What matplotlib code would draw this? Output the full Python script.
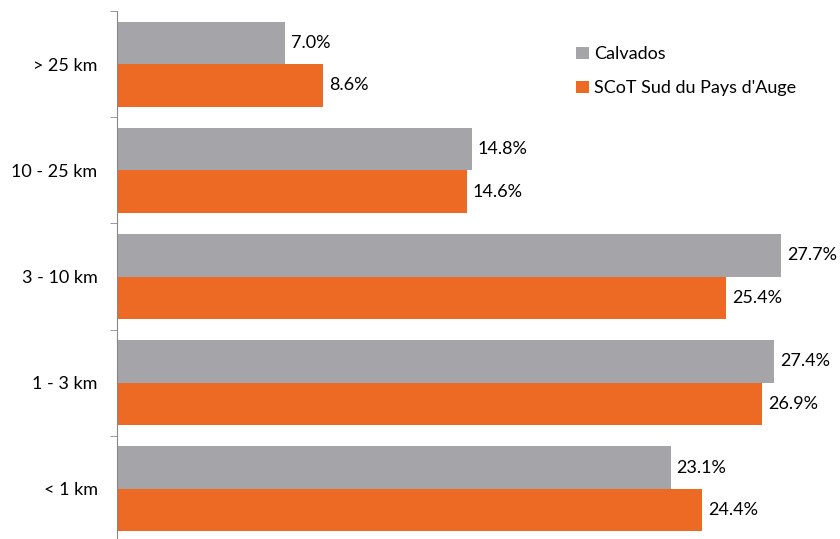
import numpy as np
import matplotlib.pyplot as plt

categories = ['> 25 km', '10 - 25 km', '3 - 10 km', '1 - 3 km', '< 1 km']
calvados = [7.0, 14.8, 27.7, 27.4, 23.1]
scot = [8.6, 14.6, 25.4, 26.9, 24.4]

gray = '#A5A5A9'
orange = '#EC6A23'

plt.rcParams['font.family'] = ['Lato', 'DejaVu Sans']

fig = plt.figure(figsize=(8.4, 5.39), dpi=100)
ax = fig.add_axes([117 / 840, -3 / 539, 1 - 117 / 840, 531 / 539])

y = np.arange(len(categories))
h = 0.4
b1 = ax.barh(y - h / 2, calvados, height=h, color=gray, label='Calvados')
b2 = ax.barh(y + h / 2, scot, height=h, color=orange, label="SCoT Sud du Pays d'Auge")

for bars, vals in [(b1, calvados), (b2, scot)]:
    for bar, v in zip(bars, vals):
        ax.text(v + 0.25, bar.get_y() + bar.get_height() / 2, f'{v:.1f}%',
                va='center', ha='left', fontsize=13)

ax.set_xlim(0, (840 - 117) / 23.97)
ax.set_ylim(len(categories) - 0.5, -0.5)
ax.set_yticks(y)
ax.set_yticklabels(categories, fontsize=13)
ax.set_yticks(np.arange(len(categories) + 1) - 0.5, minor=True)
ax.tick_params(axis='y', which='major', length=0, pad=14)
ax.tick_params(axis='y', which='minor', length=5, color='#888888')
ax.set_xticks([])
for s in ['top', 'right', 'bottom']:
    ax.spines[s].set_visible(False)
ax.spines['left'].set_color('#888888')

ax.legend(loc='upper left', bbox_to_anchor=(560 / 840, 1 - 30 / 539),
          bbox_transform=fig.transFigure, frameon=False, fontsize=13,
          handlelength=0.7, handleheight=0.7, handletextpad=0.3, labelspacing=1.0)

fig.savefig('out.png')
